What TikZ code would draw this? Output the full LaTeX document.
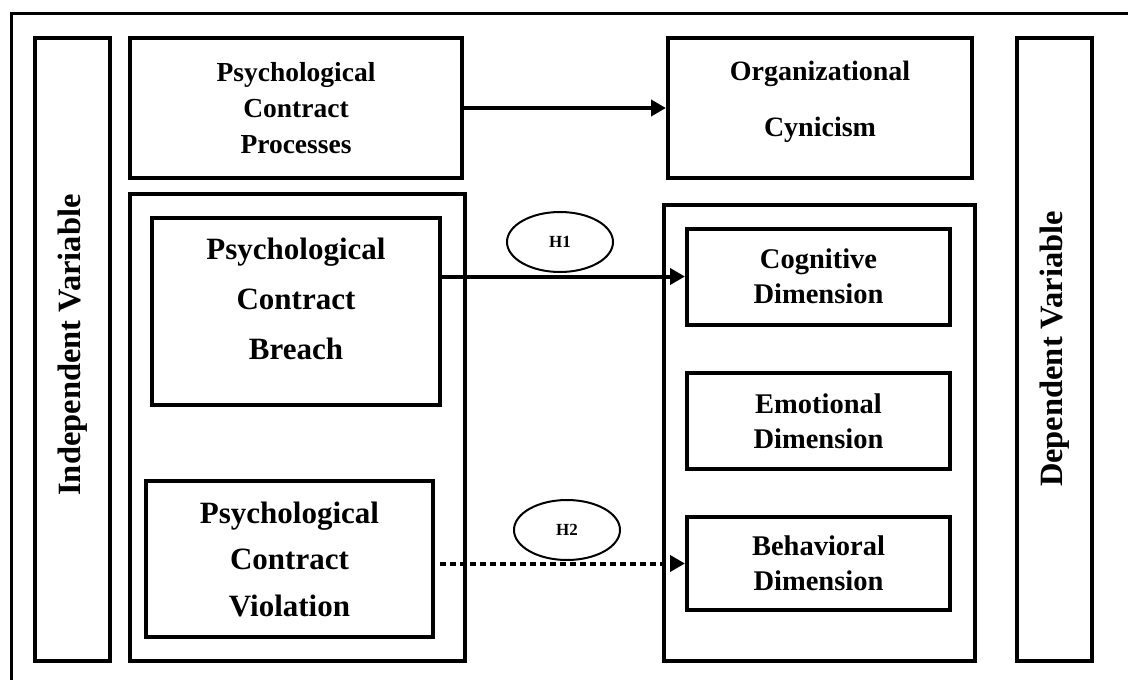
\documentclass[tikz,border=0pt]{standalone}
\usepackage{fontspec}
\setmainfont{Liberation Serif}
\usetikzlibrary{arrows.meta,shapes.geometric}
\begin{document}
\begin{tikzpicture}[x=1pt,y=-1pt,
  box/.style={draw,line width=4pt},
  lbl/.style={font=\bfseries\fontsize{31}{47}\selectfont,align=center},
  tlbl/.style={font=\bfseries\fontsize{27.5}{36}\selectfont,align=center},
  rlbl/.style={font=\bfseries\fontsize{28.5}{35}\selectfont,align=center},
  sidelbl/.style={font=\bfseries\fontsize{32.5}{40}\selectfont},
  hyp/.style={draw,ellipse,line width=2pt,minimum width=106pt,minimum height=60pt,inner sep=0pt,font=\bfseries\fontsize{17}{20}\selectfont},
  conn/.style={line width=4pt,-{Triangle[length=15pt,width=16pt]}}
]
\useasboundingbox (0,0) rectangle (1128,680);
% outer frame
\draw[line width=3pt] (11,680) -- (11,13) -- (1128,13);
% side boxes
\node[box,minimum width=75pt,minimum height=623pt,inner sep=0pt] (ivbox) at (72.5,349.5) {};
\node[sidelbl,rotate=90] (iv) at (72.5,345) {Independent Variable};
\node[box,minimum width=75pt,minimum height=623pt,inner sep=0pt] (dvbox) at (1054.5,349.5) {};
\node[sidelbl,rotate=90] (dv) at (1054.5,349) {Dependent Variable};
% top boxes
\node[box,minimum width=332pt,minimum height=140pt,inner sep=0pt,tlbl] (pcp) at (296,108) {Psychological\\Contract\\Processes};
\node[box,minimum width=304pt,minimum height=140pt,inner sep=0pt] (oc) at (820,108) {};
\node[font=\bfseries\fontsize{28}{56}\selectfont,align=center] (octxt) at (820,102) {Organizational\\Cynicism};
% big containers
\node[box,minimum width=335pt,minimum height=467pt,inner sep=0pt] (left) at (297.5,427.5) {};
\node[box,minimum width=311pt,minimum height=456pt,inner sep=0pt] (right) at (819.5,433) {};
% left inner
\node[box,minimum width=288pt,minimum height=187pt,inner sep=0pt] (pcb) at (296,311.5) {};
\node[lbl,font=\bfseries\fontsize{31}{50}\selectfont] (pcbtxt) at (296,299) {Psychological\\Contract\\Breach};
\node[box,minimum width=287pt,minimum height=156pt,inner sep=0pt] (pcv) at (289.5,559) {};
\node[lbl,font=\bfseries\fontsize{31}{46.5}\selectfont] (pcvtxt) at (289.5,559) {Psychological\\Contract\\Violation};
% right inner
\node[box,minimum width=263pt,minimum height=96pt,rlbl] (cog) at (818.5,276.5) {Cognitive\\Dimension};
\node[box,minimum width=263pt,minimum height=96pt,rlbl] (emo) at (818.5,421) {Emotional\\Dimension};
\node[box,minimum width=263pt,minimum height=93pt,rlbl] (beh) at (818.5,563.5) {Behavioral\\Dimension};
% hypotheses
\node[hyp] (h1) at (560,242) {H1};
\node[hyp] (h2) at (567,530) {H2};
% connectors
\draw[conn] (pcp.east) -- (oc.west);
\draw[conn] (pcb.east|-cog.west) -- (cog.west);
\draw[conn,dash pattern=on 6pt off 4pt,shorten <=5pt] (pcv.east|-beh.west) -- (beh.west);
\end{tikzpicture}
\end{document}
